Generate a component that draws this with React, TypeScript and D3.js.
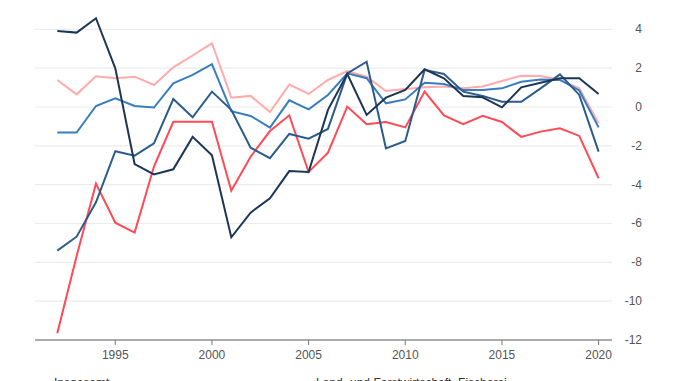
import React from "react";
import * as d3 from "d3";

const years: number[] = d3.range(1992, 2021);

const insgesamt: number[] = [3.91, 3.83, 4.57, 1.99, -2.94, -3.47, -3.21, -1.54, -2.49, -6.71, -5.44, -4.70, -3.30, -3.35, -0.15, 1.70, -0.41, 0.48, 0.88, 1.94, 1.48, 0.57, 0.50, -0.02, 1.01, 1.25, 1.48, 1.48, 0.67];
const landwirtschaft: number[] = [1.39, 0.65, 1.58, 1.48, 1.56, 1.13, 2.04, 2.65, 3.28, 0.48, 0.57, -0.26, 1.15, 0.67, 1.39, 1.85, 1.56, 0.82, 0.93, 1.01, 1.05, 0.96, 1.06, 1.34, 1.61, 1.60, 1.39, 0.96, -0.84];
const gewerbe: number[] = [-1.32, -1.32, 0.05, 0.45, 0.05, -0.03, 1.22, 1.65, 2.21, -0.22, -0.46, -1.06, 0.34, -0.12, 0.62, 1.73, 1.48, 0.19, 0.39, 1.25, 1.18, 0.88, 0.88, 0.96, 1.30, 1.41, 1.39, 0.85, -1.05];
const bau: number[] = [-7.40, -6.68, -4.91, -2.28, -2.51, -1.87, 0.41, -0.53, 0.79, -0.15, -2.10, -2.64, -1.39, -1.63, -1.13, 1.73, 2.33, -2.13, -1.75, 1.91, 1.70, 0.79, 0.57, 0.27, 0.27, 0.96, 1.68, 0.62, -2.30];
const dienst: number[] = [-11.65, -7.67, -3.95, -5.96, -6.47, -3.07, -0.76, -0.76, -0.76, -4.31, -2.56, -1.24, -0.43, -3.35, -2.35, 0.02, -0.89, -0.77, -1.05, 0.79, -0.43, -0.89, -0.46, -0.77, -1.54, -1.27, -1.10, -1.49, -3.67];

const seriesNames: string[] = ["Insgesamt", "Land- und Forstwirtschaft, Fischerei", "Produzierendes Gewerbe", "Baugewerbe", "Dienstleistungen"];
const xTicks: number[] = [1995, 2000, 2005, 2010, 2015, 2020];
const yTicks: number[] = [4, 2, 0, -2, -4, -6, -8, -10, -12];

const W = 678;
const H = 381;

export default function App() {
  const x = d3.scaleLinear().domain([1992, 2020]).range([57.3, 598.6]);
  const y = d3.scaleLinear().domain([-12, 4]).range([340, 29.3]);
  const line = d3
    .line<[number, number]>()
    .x((d) => x(d[0]))
    .y((d) => y(d[1]));

  const series = [
    { name: seriesNames[1], values: landwirtschaft, color: "#ffabab" },
    { name: seriesNames[2], values: gewerbe, color: "#3a7dbf" },
    { name: seriesNames[4], values: dienst, color: "#ff4a55" },
    { name: seriesNames[3], values: bau, color: "#2b5c8c" },
    { name: seriesNames[0], values: insgesamt, color: "#1c3656" },
  ];

  const font = "'Liberation Sans', Arial, sans-serif";

  return (
    <svg
      width={W}
      height={H}
      style={{ position: "absolute", left: 0, top: 0, background: "#fff" }}
      fontFamily={font}
    >
      {yTicks.map((t) => (
        <g key={t}>
          {t !== -12 && (
            <line x1={35} x2={612} y1={y(t)} y2={y(t)} stroke="#ececec" strokeWidth={1.2} />
          )}
          <text x={642} y={y(t) + 4} textAnchor="end" fontSize={12} fill="#555">
            {t}
          </text>
        </g>
      ))}
      <line x1={35} x2={612} y1={y(-12)} y2={y(-12)} stroke="#8f8f8f" strokeWidth={1.3} />
      {xTicks.map((t) => (
        <g key={t}>
          <line x1={x(t)} x2={x(t)} y1={y(-12)} y2={y(-12) + 5} stroke="#777" strokeWidth={1} />
          <text x={x(t)} y={359} textAnchor="middle" fontSize={12} fill="#555">
            {t}
          </text>
        </g>
      ))}
      {series.map((s) => (
        <path
          key={s.name}
          d={line(years.map((yr, i) => [yr, s.values[i]] as [number, number])) || ""}
          fill="none"
          stroke={s.color}
          strokeWidth={2}
          strokeLinejoin="miter"
        />
      ))}
      <text x={54} y={387} fontSize={12} fill="#333">
        {seriesNames[0]}
      </text>
      <text x={316} y={387} fontSize={12} fill="#333">
        {seriesNames[1]}
      </text>
    </svg>
  );
}
